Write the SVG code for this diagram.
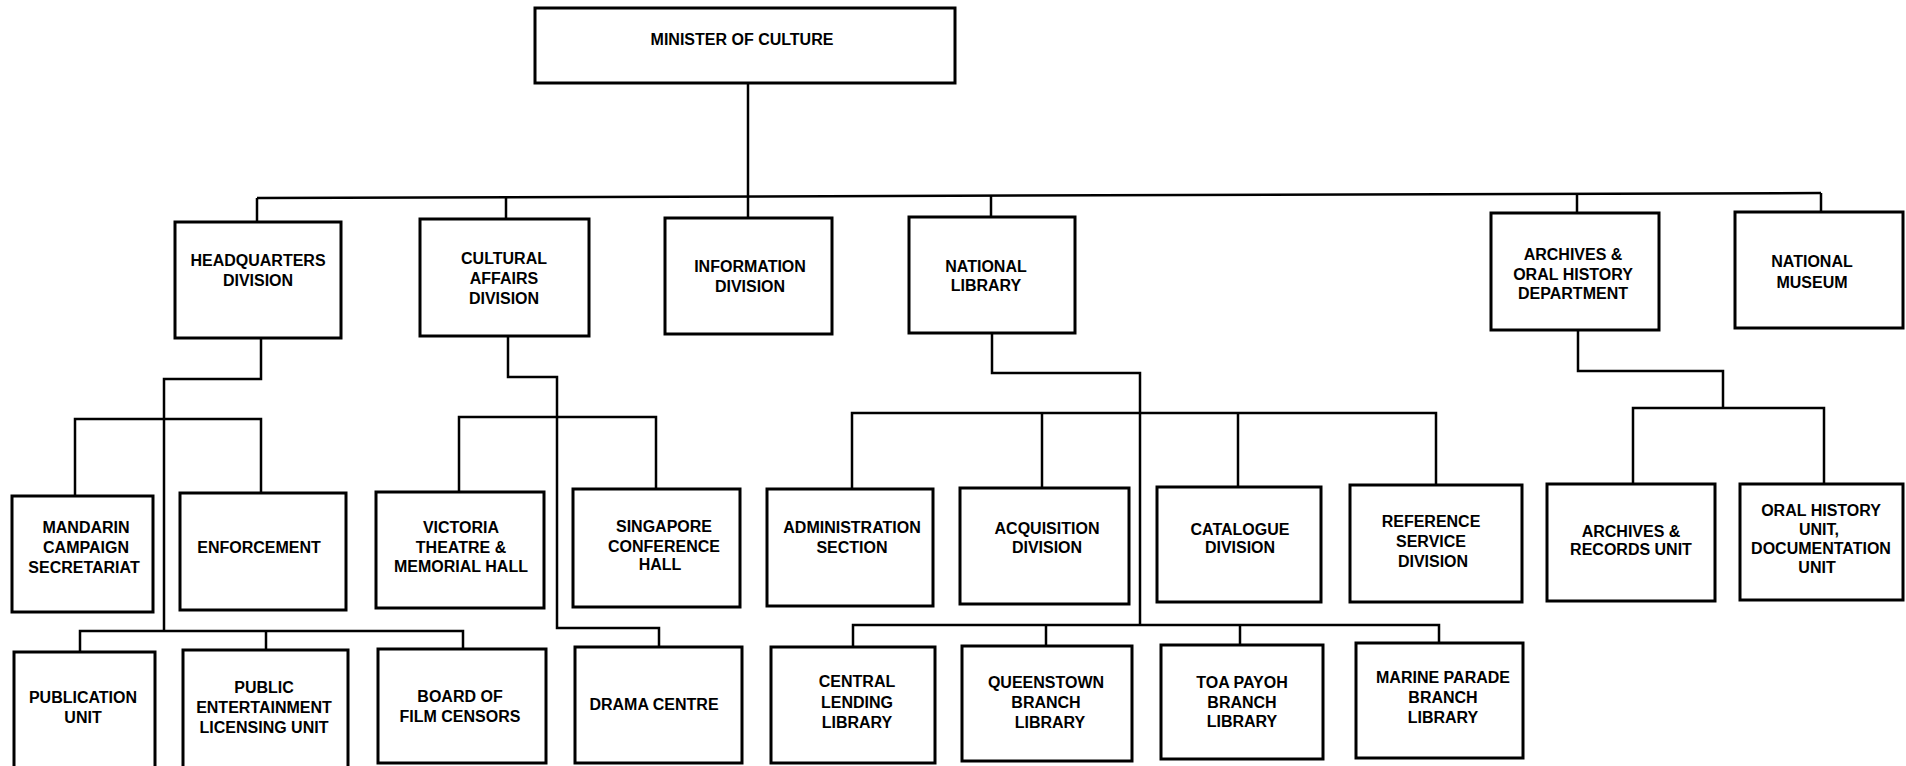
<svg xmlns="http://www.w3.org/2000/svg" width="1906" height="766" viewBox="0 0 1906 766">
<style>
.box{fill:#fff;stroke:#000;stroke-width:3}
.c{fill:none;stroke:#000;stroke-width:2.5;stroke-linejoin:miter}
text{font-family:"Liberation Sans",Arial,sans-serif;font-weight:bold;font-size:16px;fill:#000;text-anchor:middle}
</style>
<rect width="1906" height="766" fill="#fff"/>
<g id="connectors">
<line class="c" x1="748" y1="83" x2="748" y2="218"/>
<line class="c" x1="257" y1="198" x2="1821" y2="193"/>
<line class="c" x1="257" y1="198" x2="257" y2="222"/>
<line class="c" x1="506" y1="197" x2="506" y2="219"/>
<line class="c" x1="991" y1="196" x2="991" y2="217"/>
<line class="c" x1="1577" y1="194" x2="1577" y2="213"/>
<line class="c" x1="1821" y1="193" x2="1821" y2="212"/>
<polyline class="c" points="261,338 261,379 164,379 164,631"/>
<polyline class="c" points="75,496 75,419 261,419 261,493"/>
<polyline class="c" points="80,652 80,631 463,631 463,649"/>
<line class="c" x1="266" y1="631" x2="266" y2="650"/>
<polyline class="c" points="508,336 508,377 557,377 557,628 659,628 659,647"/>
<polyline class="c" points="459,492 459,417 656,417 656,489"/>
<polyline class="c" points="992,333 992,373 1140,373 1140,625"/>
<polyline class="c" points="852,489 852,413 1436,413 1436,485"/>
<line class="c" x1="1042" y1="413" x2="1042" y2="488"/>
<line class="c" x1="1238" y1="413" x2="1238" y2="487"/>
<polyline class="c" points="853,647 853,625 1439,625 1439,643"/>
<line class="c" x1="1046" y1="625" x2="1046" y2="646"/>
<line class="c" x1="1240" y1="625" x2="1240" y2="645"/>
<polyline class="c" points="1578,330 1578,371 1723,371 1723,408"/>
<polyline class="c" points="1633,484 1633,408 1824,408 1824,484"/>
</g>
<g id="minister"><rect class="box" x="535" y="8" width="420" height="75"/><text x="742" y="45">MINISTER OF CULTURE</text></g>
<g id="hq"><rect class="box" x="175" y="222" width="166" height="116"/><text x="258" y="266">HEADQUARTERS</text><text x="258" y="286">DIVISION</text></g>
<g id="cultural"><rect class="box" x="420" y="219" width="169" height="117"/><text x="504" y="264">CULTURAL</text><text x="504" y="284">AFFAIRS</text><text x="504" y="304">DIVISION</text></g>
<g id="information"><rect class="box" x="665" y="218" width="167" height="116"/><text x="750" y="272">INFORMATION</text><text x="750" y="292">DIVISION</text></g>
<g id="natlib"><rect class="box" x="909" y="217" width="166" height="116"/><text x="986" y="272">NATIONAL</text><text x="986" y="291">LIBRARY</text></g>
<g id="archdept"><rect class="box" x="1491" y="213" width="168" height="117"/><text x="1573" y="260">ARCHIVES &amp;</text><text x="1573" y="280">ORAL HISTORY</text><text x="1573" y="299">DEPARTMENT</text></g>
<g id="museum"><rect class="box" x="1735" y="212" width="168" height="116"/><text x="1812" y="267">NATIONAL</text><text x="1812" y="288">MUSEUM</text></g>
<g id="mandarin"><rect class="box" x="12" y="496" width="141" height="116"/><text x="86" y="533">MANDARIN</text><text x="86" y="553">CAMPAIGN</text><text x="84" y="573">SECRETARIAT</text></g>
<g id="enforcement"><rect class="box" x="180" y="493" width="166" height="117"/><text x="259" y="553">ENFORCEMENT</text></g>
<g id="victoria"><rect class="box" x="376" y="492" width="168" height="116"/><text x="461" y="533">VICTORIA</text><text x="461" y="553">THEATRE &amp;</text><text x="461" y="572">MEMORIAL HALL</text></g>
<g id="singapore"><rect class="box" x="573" y="489" width="167" height="118"/><text x="664" y="532">SINGAPORE</text><text x="664" y="552">CONFERENCE</text><text x="660" y="570">HALL</text></g>
<g id="admin"><rect class="box" x="767" y="489" width="166" height="117"/><text x="852" y="533">ADMINISTRATION</text><text x="852" y="553">SECTION</text></g>
<g id="acquisition"><rect class="box" x="960" y="488" width="169" height="116"/><text x="1047" y="534">ACQUISITION</text><text x="1047" y="553">DIVISION</text></g>
<g id="catalogue"><rect class="box" x="1157" y="487" width="164" height="115"/><text x="1240" y="535">CATALOGUE</text><text x="1240" y="553">DIVISION</text></g>
<g id="reference"><rect class="box" x="1350" y="485" width="172" height="117"/><text x="1431" y="527">REFERENCE</text><text x="1431" y="547">SERVICE</text><text x="1433" y="567">DIVISION</text></g>
<g id="records"><rect class="box" x="1547" y="484" width="168" height="117"/><text x="1631" y="537">ARCHIVES &amp;</text><text x="1631" y="555">RECORDS UNIT</text></g>
<g id="oralhistory"><rect class="box" x="1740" y="484" width="163" height="116"/><text x="1821" y="516">ORAL HISTORY</text><text x="1819" y="535">UNIT,</text><text x="1821" y="554">DOCUMENTATION</text><text x="1817" y="573">UNIT</text></g>
<g id="publication"><rect class="box" x="14" y="652" width="141" height="120"/><text x="83" y="703">PUBLICATION</text><text x="83" y="723">UNIT</text></g>
<g id="publicent"><rect class="box" x="183" y="650" width="165" height="122"/><text x="264" y="693">PUBLIC</text><text x="264" y="713">ENTERTAINMENT</text><text x="264" y="733">LICENSING UNIT</text></g>
<g id="board"><rect class="box" x="378" y="649" width="168" height="114"/><text x="460" y="702">BOARD OF</text><text x="460" y="722">FILM CENSORS</text></g>
<g id="drama"><rect class="box" x="575" y="647" width="167" height="116"/><text x="654" y="710">DRAMA CENTRE</text></g>
<g id="central"><rect class="box" x="771" y="647" width="164" height="116"/><text x="857" y="687">CENTRAL</text><text x="857" y="708">LENDING</text><text x="857" y="728">LIBRARY</text></g>
<g id="queenstown"><rect class="box" x="962" y="646" width="170" height="115"/><text x="1046" y="688">QUEENSTOWN</text><text x="1046" y="708">BRANCH</text><text x="1050" y="728">LIBRARY</text></g>
<g id="toapayoh"><rect class="box" x="1161" y="645" width="162" height="114"/><text x="1242" y="688">TOA PAYOH</text><text x="1242" y="708">BRANCH</text><text x="1242" y="727">LIBRARY</text></g>
<g id="marine"><rect class="box" x="1356" y="643" width="167" height="115"/><text x="1443" y="683">MARINE PARADE</text><text x="1443" y="703">BRANCH</text><text x="1443" y="723">LIBRARY</text></g>
</svg>
